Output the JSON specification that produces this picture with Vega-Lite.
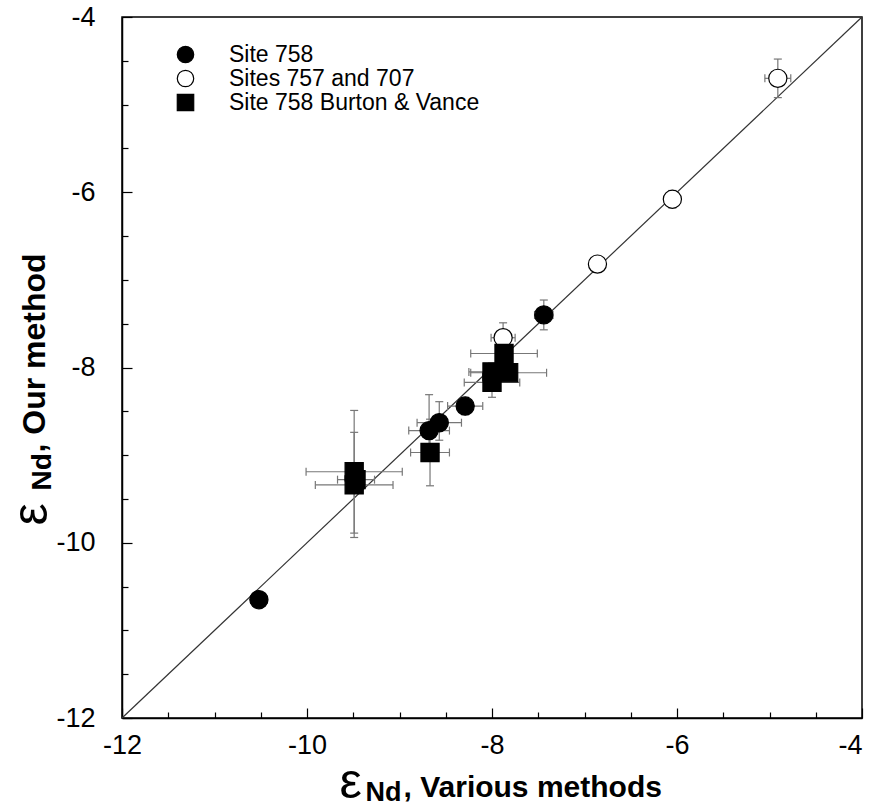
{
  "$schema": "https://vega.github.io/schema/vega-lite/v6.json",
  "width": 740,
  "height": 701,
  "autosize": {"type": "none"},
  "padding": {"left": 122, "top": 17, "right": 10, "bottom": 90},
  "background": "white",
  "config": {
    "view": {"stroke": "black", "strokeWidth": 1.5},
    "font": "Liberation Sans",
    "axis": {"grid": false, "labelColor": "black", "tickColor": "black", "domainColor": "black", "titleColor": "black", "labelFont": "Liberation Sans", "titleFont": "Liberation Sans", "labelFlush": false, "labelOverlap": false}
  },
  "data": {
    "values": [
      {"group": "Site 758", "x": -10.52, "y": -10.65, "xlo": -10.61, "xhi": -10.43, "ylo": -10.68, "yhi": -10.62},
      {"group": "Site 758", "x": -7.44, "y": -7.40, "xlo": -7.54, "xhi": -7.34, "ylo": -7.57, "yhi": -7.23},
      {"group": "Site 758", "x": -8.29, "y": -8.44, "xlo": -8.48, "xhi": -8.10, "ylo": -8.54, "yhi": -8.34},
      {"group": "Site 758", "x": -8.57, "y": -8.63, "xlo": -8.81, "xhi": -8.33, "ylo": -8.83, "yhi": -8.39},
      {"group": "Site 758", "x": -8.68, "y": -8.72, "xlo": -8.90, "xhi": -8.46, "ylo": -8.95, "yhi": -8.31},
      {"group": "Sites 757 and 707", "x": -4.91, "y": -4.70, "xlo": -5.05, "xhi": -4.77, "ylo": -4.92, "yhi": -4.48},
      {"group": "Sites 757 and 707", "x": -6.05, "y": -6.08, "xlo": -6.11, "xhi": -5.99, "ylo": -6.18, "yhi": -5.98},
      {"group": "Sites 757 and 707", "x": -6.86, "y": -6.82, "xlo": -6.92, "xhi": -6.80, "ylo": -6.90, "yhi": -6.74},
      {"group": "Sites 757 and 707", "x": -7.88, "y": -7.66, "xlo": -8.01, "xhi": -7.75, "ylo": -7.83, "yhi": -7.49},
      {"group": "Site 758 Burton & Vance", "x": -9.49, "y": -9.19, "xlo": -10.01, "xhi": -8.97, "ylo": -9.89, "yhi": -8.49},
      {"group": "Site 758 Burton & Vance", "x": -9.49, "y": -9.34, "xlo": -9.91, "xhi": -9.07, "ylo": -9.94, "yhi": -8.74},
      {"group": "Site 758 Burton & Vance", "x": -9.47, "y": -9.28, "xlo": -9.67, "xhi": -9.27, "ylo": -9.38, "yhi": -9.18},
      {"group": "Site 758 Burton & Vance", "x": -7.87, "y": -7.84, "xlo": -8.23, "xhi": -7.51, "ylo": -7.94, "yhi": -7.74},
      {"group": "Site 758 Burton & Vance", "x": -7.82, "y": -8.06, "xlo": -8.23, "xhi": -7.41, "ylo": -8.14, "yhi": -7.98},
      {"group": "Site 758 Burton & Vance", "x": -8.00, "y": -8.05, "xlo": -8.25, "xhi": -7.75, "ylo": -8.15, "yhi": -7.95},
      {"group": "Site 758 Burton & Vance", "x": -8.00, "y": -8.17, "xlo": -8.30, "xhi": -7.70, "ylo": -8.34, "yhi": -8.00},
      {"group": "Site 758 Burton & Vance", "x": -8.67, "y": -8.97, "xlo": -8.88, "xhi": -8.46, "ylo": -9.35, "yhi": -8.59}
    ]
  },
  "resolve": {"axis": {"x": "independent", "y": "independent"}},
  "layer": [
    {
      "data": {"values": [{"ax": -12, "ay": -12, "bx": -4, "by": -4}]},
      "mark": {"type": "rule", "color": "#333333", "strokeWidth": 1.2},
      "encoding": {
        "x": {"field": "ax", "type": "quantitative", "scale": {"domain": [-12, -4], "nice": false, "zero": false},
          "axis": {"orient": "bottom", "values": [-12, -10, -8, -6, -4], "labelExpr": "datum.value + ''", "tickSize": -10, "tickWidth": 1.2, "domainWidth": 1.5, "labelFontSize": 27, "labelPadding": 24,
            "labelAlign": {"condition": {"test": "datum.value == -4", "value": "right"}, "value": "center"},
            "title": "Nd", "titleFontSize": 27, "titleFontWeight": "bold", "titleX": 243, "titleY": 82, "titleAlign": "left", "titleBaseline": "alphabetic", "titleAnchor": null}},
        "y": {"field": "ay", "type": "quantitative", "scale": {"domain": [-12, -4], "nice": false, "zero": false},
          "axis": {"orient": "left", "values": [-12, -10, -8, -6, -4], "labelExpr": "datum.value + ''", "tickSize": -10, "tickWidth": 1.2, "domainWidth": 1.5, "labelFontSize": 27, "labelPadding": 37,
            "title": "Nd", "titleFontSize": 28, "titleFontWeight": "bold", "titleAngle": 270, "titleX": -72, "titleY": 473, "titleAlign": "left", "titleBaseline": "alphabetic", "titleAnchor": null}},
        "x2": {"field": "bx"},
        "y2": {"field": "by"}
      }
    },
    {
      "mark": {"type": "rule", "color": "#777777", "strokeWidth": 1.2},
      "encoding": {
        "x": {"field": "xlo", "type": "quantitative", "scale": {"domain": [-12, -4], "nice": false, "zero": false},
          "axis": {"orient": "bottom", "values": [-11.5, -11, -10.5, -9.5, -9, -8.5, -7.5, -7, -6.5, -5.5, -5, -4.5], "tickSize": -6, "tickWidth": 1.2, "domain": false, "labels": false,
            "title": "ε", "titleFontSize": 50, "titleFontWeight": "normal", "titleX": 217, "titleY": 79, "titleAlign": "left", "titleBaseline": "alphabetic", "titleAnchor": null}},
        "x2": {"field": "xhi"},
        "y": {"field": "y", "type": "quantitative", "scale": {"domain": [-12, -4], "nice": false, "zero": false},
          "axis": {"orient": "left", "values": [-11.5, -11, -10.5, -9.5, -9, -8.5, -7.5, -7, -6.5, -5.5, -5, -4.5], "tickSize": -6, "tickWidth": 1.2, "domain": false, "labels": false,
            "title": "ε", "titleFontSize": 50, "titleFontWeight": "normal", "titleAngle": 270, "titleX": -76, "titleY": 508, "titleAlign": "left", "titleBaseline": "alphabetic", "titleAnchor": null}}
      }
    },
    {
      "mark": {"type": "rule", "color": "#777777", "strokeWidth": 1.2},
      "encoding": {
        "x": {"field": "x", "type": "quantitative", "scale": {"domain": [-12, -4], "nice": false, "zero": false},
          "axis": {"orient": "bottom", "domain": false, "labels": false, "ticks": false,
            "title": ", Various methods", "titleFontSize": 30, "titleFontWeight": "bold", "titleX": 281, "titleY": 78, "titleAlign": "left", "titleBaseline": "alphabetic", "titleAnchor": null}},
        "y": {"field": "ylo", "type": "quantitative", "scale": {"domain": [-12, -4], "nice": false, "zero": false},
          "axis": {"orient": "left", "domain": false, "labels": false, "ticks": false,
            "title": ", Our method", "titleFontSize": 32, "titleFontWeight": "bold", "titleAngle": 270, "titleX": -78, "titleY": 435, "titleAlign": "left", "titleBaseline": "alphabetic", "titleAnchor": null}},
        "y2": {"field": "yhi"}
      }
    },
    {
      "mark": {"type": "tick", "orient": "vertical", "size": 8, "thickness": 1.2, "color": "#777777", "opacity": 1},
      "encoding": {
        "x": {"field": "xlo", "type": "quantitative", "axis": null},
        "y": {"field": "y", "type": "quantitative", "axis": null}
      }
    },
    {
      "mark": {"type": "tick", "orient": "vertical", "size": 8, "thickness": 1.2, "color": "#777777", "opacity": 1},
      "encoding": {
        "x": {"field": "xhi", "type": "quantitative", "axis": null},
        "y": {"field": "y", "type": "quantitative", "axis": null}
      }
    },
    {
      "mark": {"type": "tick", "orient": "horizontal", "size": 8, "thickness": 1.2, "color": "#777777", "opacity": 1},
      "encoding": {
        "x": {"field": "x", "type": "quantitative", "axis": null},
        "y": {"field": "ylo", "type": "quantitative", "axis": null}
      }
    },
    {
      "mark": {"type": "tick", "orient": "horizontal", "size": 8, "thickness": 1.2, "color": "#777777", "opacity": 1},
      "encoding": {
        "x": {"field": "x", "type": "quantitative", "axis": null},
        "y": {"field": "yhi", "type": "quantitative", "axis": null}
      }
    },
    {
      "mark": {"type": "point", "size": 330, "strokeWidth": 1.2, "opacity": 1, "fillOpacity": 1, "strokeOpacity": 1},
      "encoding": {
        "x": {"field": "x", "type": "quantitative", "axis": null},
        "y": {"field": "y", "type": "quantitative", "axis": null},
        "shape": {"field": "group", "type": "nominal",
          "scale": {"domain": ["Site 758", "Sites 757 and 707", "Site 758 Burton & Vance"], "range": ["circle", "circle", "square"]},
          "legend": {"orient": "none", "legendX": 52, "legendY": 26, "title": null, "padding": 0, "rowPadding": 0, "labelLimit": 400, "labelFontSize": 23, "labelFont": "Liberation Sans", "labelColor": "black", "labelOffset": 32, "symbolSize": 270, "symbolStrokeWidth": 1.2}},
        "fill": {"field": "group", "type": "nominal",
          "scale": {"domain": ["Site 758", "Sites 757 and 707", "Site 758 Burton & Vance"], "range": ["black", "white", "black"]},
          "legend": {"orient": "none", "legendX": 52, "legendY": 26, "title": null, "padding": 0, "rowPadding": 0, "labelLimit": 400, "labelFontSize": 23, "labelFont": "Liberation Sans", "labelColor": "black", "labelOffset": 32, "symbolSize": 270, "symbolStrokeWidth": 1.2}},
        "stroke": {"field": "group", "type": "nominal",
          "scale": {"domain": ["Site 758", "Sites 757 and 707", "Site 758 Burton & Vance"], "range": ["black", "black", "black"]},
          "legend": {"orient": "none", "legendX": 52, "legendY": 26, "title": null, "padding": 0, "rowPadding": 0, "labelLimit": 400, "labelFontSize": 23, "labelFont": "Liberation Sans", "labelColor": "black", "labelOffset": 32, "symbolSize": 270, "symbolStrokeWidth": 1.2}}
      }
    }
  ]
}
